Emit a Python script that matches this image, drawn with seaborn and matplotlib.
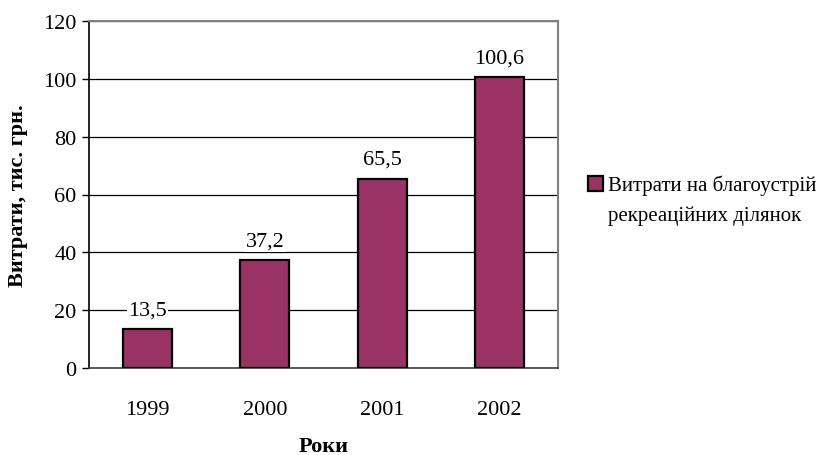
import matplotlib
matplotlib.use('Agg')
import matplotlib.pyplot as plt
from matplotlib.patches import Patch
import seaborn as sns
import pandas as pd

years = ['1999', '2000', '2001', '2002']
costs = [13.5, 37.2, 65.5, 100.6]
value_labels = ['13,5', '37,2', '65,5', '100,6']
series_lines = ['Витрати на благоустрій', 'рекреаційних ділянок']

sns.set_style('white')
plt.rcParams['font.family'] = ['Liberation Serif', 'DejaVu Serif']
plt.rcParams['text.color'] = 'black'
plt.rcParams['axes.labelcolor'] = 'black'
plt.rcParams['xtick.color'] = 'black'
plt.rcParams['ytick.color'] = 'black'

df = pd.DataFrame({'year': years, 'cost': costs})

fig = plt.figure(figsize=(8.22, 4.56), dpi=100)
ax = fig.add_axes([89 / 822, 1 - 369 / 456, 469 / 822, 347 / 456])

sns.barplot(data=df, x='year', y='cost', color='#993366', saturation=1,
            width=0.42, edgecolor='black', linewidth=1.6, ax=ax, zorder=3)

ax.set_ylim(0, 120)
ax.set_xlim(-0.5, 3.5)
ax.set_yticks(range(0, 121, 20))
ax.yaxis.grid(True, color='black', linewidth=0.9)
ax.set_axisbelow(True)

# ticks between categories
ax.set_xticks([-0.5, 0.5, 1.5, 2.5, 3.5], minor=True)
ax.tick_params(axis='x', which='minor', length=6, width=1, color='black', direction='out')
ax.tick_params(axis='x', which='major', length=0, pad=23, labelsize=16)
ax.tick_params(axis='y', length=5, width=1, color='black', direction='out', pad=4, labelsize=16)
ax.tick_params(axis='both', bottom=True, left=True)

for side in ['top', 'right']:
    ax.spines[side].set_color('#808080')
    ax.spines[side].set_linewidth(1.5)
ax.spines['left'].set_color('black')
ax.spines['left'].set_linewidth(1.2)
ax.spines['bottom'].set_color('#404040')
ax.spines['bottom'].set_linewidth(1.2)

for i, (v, lab) in enumerate(zip(costs, value_labels)):
    ax.annotate(lab, (i, v), xytext=(0, 7), textcoords='offset points',
                ha='center', va='bottom', fontsize=16,
                bbox=dict(facecolor='white', edgecolor='none', pad=1), zorder=4)

ax.set_xlabel('Роки', fontsize=16, fontweight='bold', labelpad=12)
ax.set_ylabel('Витрати, тис. грн.', fontsize=16, fontweight='bold', labelpad=11)

# legend: marker next to the first line only
handle = Patch(facecolor='#993366', edgecolor='black', linewidth=1.6)
blank = Patch(facecolor='none', edgecolor='none')
fig.legend([handle, blank], series_lines, loc='upper left',
           bbox_to_anchor=(588 / 822, 1 - 176 / 456),
           frameon=False, fontsize=15, handlelength=0.7, handleheight=0.7,
           handletextpad=0.25, borderaxespad=0, borderpad=0, labelspacing=0.5)

fig.savefig('out.png', dpi=100)
